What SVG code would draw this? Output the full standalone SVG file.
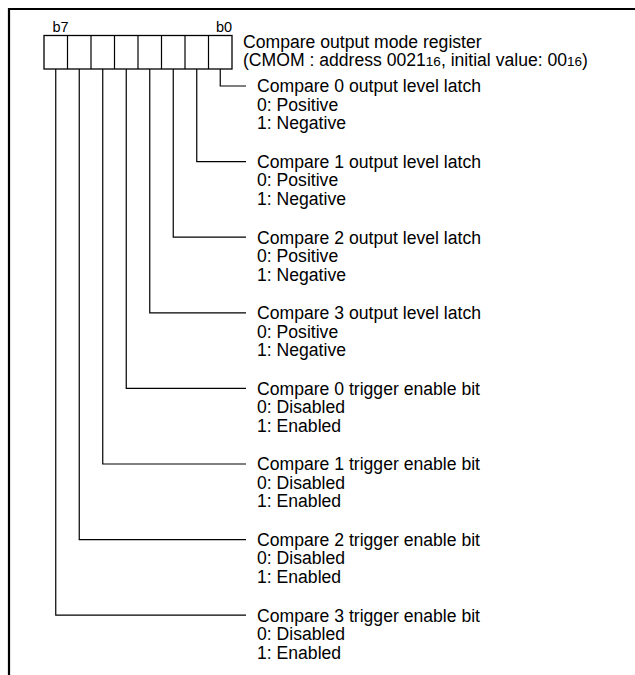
<svg xmlns="http://www.w3.org/2000/svg" width="635" height="675" viewBox="0 0 635 675">
<style>
text{font-family:"Liberation Sans",Arial,sans-serif;font-size:17.6px;fill:#000}
.sub{font-size:13.5px}
.bit{font-size:14.5px}
.ln{fill:none;stroke:#000;stroke-width:1.2}
.frame{fill:none;stroke:#000;stroke-width:2.2}
.box{fill:#fff;stroke:#000;stroke-width:1.3}
</style>
<g id="frame"><path class="frame" d="M9,675 V9 H635"/></g>
<g id="register">
<rect class="box" x="44" y="35.5" width="188" height="33.5"/>
<path class="ln" d="M67.5,35.5V69M91,35.5V69M114.5,35.5V69M138,35.5V69M161.5,35.5V69M185,35.5V69M208.5,35.5V69"/>
<text class="bit" x="52.5" y="32">b7</text>
<text class="bit" x="216" y="32">b0</text>
<text x="243" y="47.5">Compare output mode register</text>
<text x="243" y="66">(CMOM : address 0021<tspan class="sub">16</tspan>, initial value: 00<tspan class="sub">16</tspan>)</text>
</g>
<g id="connectors">
<path class="ln" d="M220.25,69V86H246"/>
<path class="ln" d="M196.75,69V161.6H246"/>
<path class="ln" d="M173.25,69V237.2H246"/>
<path class="ln" d="M149.75,69V312.8H246"/>
<path class="ln" d="M126.25,69V388.4H246"/>
<path class="ln" d="M102.75,69V464H246"/>
<path class="ln" d="M79.25,69V539.6H246"/>
<path class="ln" d="M55.75,69V615.2H246"/>
</g>
<g id="bit0"><text x="257" y="92.3">Compare 0 output level latch<tspan x="257" dy="18.5">0: Positive</tspan><tspan x="257" dy="18.5">1: Negative</tspan></text></g>
<g id="bit1"><text x="257" y="167.9">Compare 1 output level latch<tspan x="257" dy="18.5">0: Positive</tspan><tspan x="257" dy="18.5">1: Negative</tspan></text></g>
<g id="bit2"><text x="257" y="243.5">Compare 2 output level latch<tspan x="257" dy="18.5">0: Positive</tspan><tspan x="257" dy="18.5">1: Negative</tspan></text></g>
<g id="bit3"><text x="257" y="319.1">Compare 3 output level latch<tspan x="257" dy="18.5">0: Positive</tspan><tspan x="257" dy="18.5">1: Negative</tspan></text></g>
<g id="bit4"><text x="257" y="394.7">Compare 0 trigger enable bit<tspan x="257" dy="18.5">0: Disabled</tspan><tspan x="257" dy="18.5">1: Enabled</tspan></text></g>
<g id="bit5"><text x="257" y="470.3">Compare 1 trigger enable bit<tspan x="257" dy="18.5">0: Disabled</tspan><tspan x="257" dy="18.5">1: Enabled</tspan></text></g>
<g id="bit6"><text x="257" y="545.9">Compare 2 trigger enable bit<tspan x="257" dy="18.5">0: Disabled</tspan><tspan x="257" dy="18.5">1: Enabled</tspan></text></g>
<g id="bit7"><text x="257" y="621.5">Compare 3 trigger enable bit<tspan x="257" dy="18.5">0: Disabled</tspan><tspan x="257" dy="18.5">1: Enabled</tspan></text></g>
</svg>
